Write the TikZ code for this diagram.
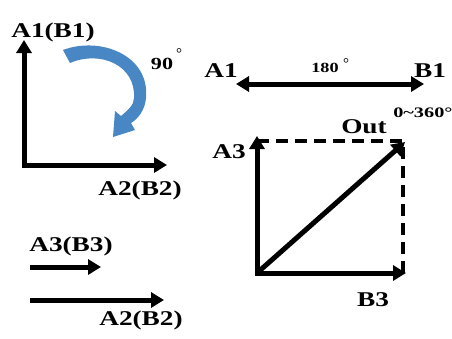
\documentclass[tikz,border=0pt]{standalone}
\usepackage{fontspec}
\setmainfont{Liberation Serif}
\usetikzlibrary{arrows.meta}
\definecolor{arcblue}{RGB}{72,134,196}
\begin{document}
\begin{tikzpicture}[x=1pt,y=-1pt,
  lbl/.style={font=\fontsize{21}{21}\selectfont\bfseries, xscale=1.3, inner sep=0pt, anchor=base},
  num/.style={font=\fontsize{17}{17}\selectfont\bfseries, xscale=1.3, inner sep=0pt, anchor=base},
  small/.style={font=\fontsize{14.5}{14.5}\selectfont\bfseries, xscale=1.4, inner sep=0pt, anchor=base west},
  degr/.style={font=\fontsize{15}{15}\selectfont, inner sep=0pt},
  vec/.style={line width=5pt, -{Triangle[length=13pt,width=15pt]}},
  dvec/.style={line width=5pt, {Triangle[length=13pt,width=15pt]}-{Triangle[length=13pt,width=15pt]}},
  dashline/.style={line width=3.2pt, dash pattern=on 12pt off 7pt}
]
\useasboundingbox (0,0) rectangle (452,338);
% left L
\coordinate (o1) at (24,165);
\coordinate (y1) at (24,40);
\coordinate (x1) at (167,165);
\draw[vec] ([yshift=2.5pt]o1) -- (y1);
\draw[vec] ([xshift=-2.5pt]o1) -- (x1);
\node[lbl] (a1b1) at (53,37) {A1(B1)};
\node[lbl] (a2b2) at (140,195) {A2(B2)};
% blue curved arrow
\fill[arcblue] (63,50) .. controls (100,36) and (150,55) .. (146,98)
  .. controls (145,110) and (138,119) .. (131,123)
  -- (135,130) -- (113,137) -- (115,111) -- (121,116)
  .. controls (128,110) and (134,105) .. (134,98)
  .. controls (136,65) and (100,50) .. (70,63) -- cycle;
\node[num] (n90) at (162,69) {90};
\node[degr] (d90) at (179,54) {°};
% right top
\coordinate (ll) at (236,84);
\coordinate (rr) at (424,84);
\draw[dvec] (ll) -- (rr);
\node[lbl] (a1) at (221,77) {A1};
\node[lbl] (b1) at (430,77) {B1};
\node[num, font=\fontsize{14}{14}\selectfont\bfseries] (n180) at (325,72) {180};
\node[degr] (d180) at (346,64) {°};
% square
\coordinate (o) at (257,273);
\coordinate (ya) at (257,136);
\coordinate (xb) at (406,273);
\coordinate (c) at (403,141);
\draw[dashline] (257,141) -- (c) -- (403,273);
\draw[vec] ([yshift=2.5pt]o) -- (ya);
\draw[vec] ([xshift=-2.5pt]o) -- (xb);
\draw[vec] (o) -- (405,142);
\node[lbl] (a3) at (229,158) {A3};
\node[lbl] (b3) at (373,306) {B3};
\node[lbl] (out) at (364,133) {Out};
\node[small] (range) at (393,117) {0\textasciitilde 360°};
% bottom left
\coordinate (s1) at (30,267);
\coordinate (e1) at (101,267);
\coordinate (s2) at (30,300);
\coordinate (e2) at (164,300);
\draw[vec] (s1) -- (e1);
\draw[vec] (s2) -- (e2);
\node[lbl] (a3b3) at (71,251) {A3(B3)};
\node[lbl] (a2b2b) at (141,325) {A2(B2)};
\end{tikzpicture}
\end{document}
